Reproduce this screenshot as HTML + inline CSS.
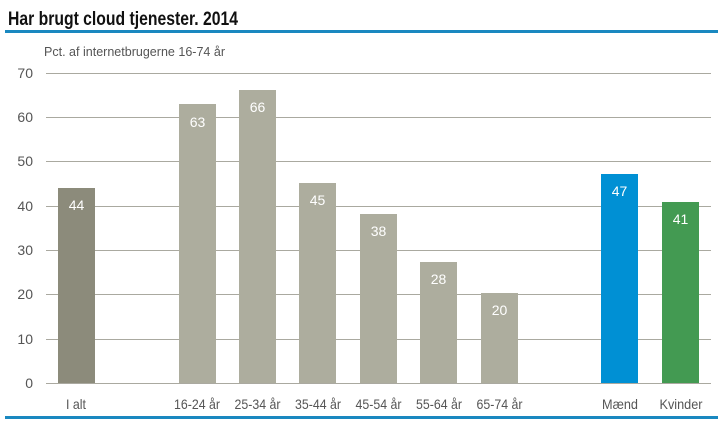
<!DOCTYPE html>
<html><head><meta charset="utf-8"><style>body{margin:0;background:#fff}svg{display:block}</style></head>
<body>
<svg width="723" height="437" viewBox="0 0 723 437" xmlns="http://www.w3.org/2000/svg" font-family="Liberation Sans, Arial, sans-serif">
<rect width="723" height="437" fill="#fff"/>
<text x="8" y="25" font-size="19" font-weight="bold" fill="#111" textLength="230" lengthAdjust="spacingAndGlyphs">Har brugt cloud tjenester. 2014</text>
<rect x="5" y="30" width="713" height="3" fill="#1a88c0"/>
<rect x="5" y="416" width="713" height="3" fill="#1a88c0"/>
<text x="44" y="56" font-size="13" fill="#555" textLength="181" lengthAdjust="spacingAndGlyphs">Pct. af internetbrugerne 16-74 år</text>
<g stroke="#aaa9a0" stroke-width="1">
<line x1="46" x2="711" y1="73.5" y2="73.5"/>
<line x1="46" x2="711" y1="117.5" y2="117.5"/>
<line x1="46" x2="711" y1="161.5" y2="161.5"/>
<line x1="46" x2="711" y1="206.5" y2="206.5"/>
<line x1="46" x2="711" y1="250.5" y2="250.5"/>
<line x1="46" x2="711" y1="294.5" y2="294.5"/>
<line x1="46" x2="711" y1="339.5" y2="339.5"/>
<line x1="46" x2="711" y1="383.5" y2="383.5"/>
</g>
<g font-size="14" fill="#555" text-anchor="end">
<text x="33" y="78">70</text><text x="33" y="122">60</text><text x="33" y="166">50</text>
<text x="33" y="211">40</text><text x="33" y="255">30</text><text x="33" y="299">20</text>
<text x="33" y="344">10</text><text x="33" y="388">0</text>
</g>
<g>
<rect x="58" y="188" width="37" height="195" fill="#8c8b7b"/>
<rect x="179" y="104" width="37" height="279" fill="#adad9e"/>
<rect x="239" y="90" width="37" height="293" fill="#adad9e"/>
<rect x="299" y="183" width="37" height="200" fill="#adad9e"/>
<rect x="360" y="214" width="37" height="169" fill="#adad9e"/>
<rect x="420" y="262" width="37" height="121" fill="#adad9e"/>
<rect x="481" y="293" width="37" height="90" fill="#adad9e"/>
<rect x="601" y="174" width="37" height="209" fill="#0090d4"/>
<rect x="662" y="202" width="37" height="181" fill="#439a52"/>
</g>
<g font-size="14" fill="#fff" text-anchor="middle">
<text x="76.5" y="210">44</text><text x="197.5" y="127">63</text><text x="257.5" y="112">66</text>
<text x="317.5" y="205">45</text><text x="378.5" y="236">38</text><text x="438.5" y="284">28</text>
<text x="499.5" y="315">20</text><text x="619.5" y="196">47</text><text x="680.5" y="224">41</text>
</g>
<g font-size="14" fill="#555" text-anchor="middle">
<text x="76" y="409" textLength="20" lengthAdjust="spacingAndGlyphs">I alt</text>
<text x="197" y="409" textLength="46" lengthAdjust="spacingAndGlyphs">16-24 år</text>
<text x="257.5" y="409" textLength="46" lengthAdjust="spacingAndGlyphs">25-34 år</text>
<text x="318" y="409" textLength="46" lengthAdjust="spacingAndGlyphs">35-44 år</text>
<text x="378.5" y="409" textLength="46" lengthAdjust="spacingAndGlyphs">45-54 år</text>
<text x="439" y="409" textLength="46" lengthAdjust="spacingAndGlyphs">55-64 år</text>
<text x="499.5" y="409" textLength="46" lengthAdjust="spacingAndGlyphs">65-74 år</text>
<text x="620" y="409" textLength="36" lengthAdjust="spacingAndGlyphs">Mænd</text>
<text x="681" y="409" textLength="43" lengthAdjust="spacingAndGlyphs">Kvinder</text>
</g>
</svg>
</body></html>
